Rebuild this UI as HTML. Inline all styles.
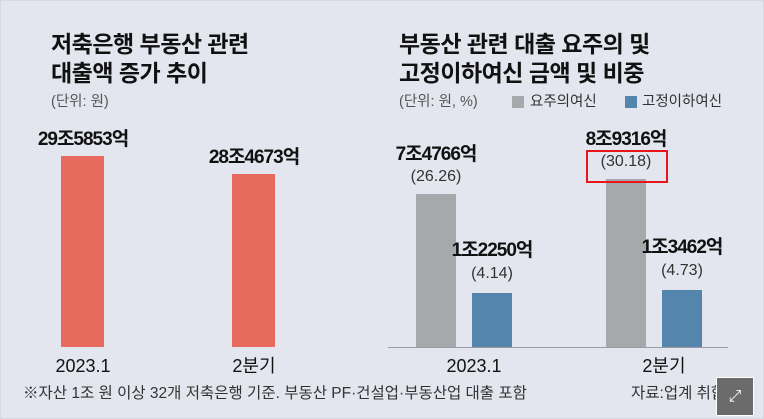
<!DOCTYPE html>
<html><head><meta charset="utf-8"><style>
body{margin:0;width:764px;height:419px;overflow:hidden;background:#fff}
#c{position:relative;width:762px;height:417px;background:#e3e6ee;border:1px solid #d6d9e0;font-family:"Liberation Sans","Noto Sans CJK KR",sans-serif;color:#111}
.t{position:absolute;white-space:nowrap}
.title{font-size:23px;font-weight:bold;line-height:29px;letter-spacing:-0.5px}
.unit{font-size:14.5px;color:#555;line-height:18px}
.val{font-size:19px;font-weight:bold;letter-spacing:-1px;text-align:center;width:140px;line-height:22px}
.pct{font-size:16px;color:#333;text-align:center;width:140px;line-height:20px}
.cat{font-size:18px;text-align:center;width:120px;line-height:22px}
</style></head><body>
<div id="c">
<div class="t title" style="left:50px;top:29px">저축은행 부동산 관련<br>대출액 증가 추이</div>
<div class="t unit" style="left:50px;top:92px">(단위: 원)</div>
<div class="t title" style="left:398px;top:29px">부동산 관련 대출 요주의 및<br>고정이하여신 금액 및 비중</div>
<div class="t unit" style="left:398px;top:92px">(단위: 원, %)</div>
<div class="t" style="left:511px;top:95px;width:12px;height:12px;background:#a7a8ab"></div>
<div class="t unit" style="left:529px;top:92px;color:#333">요주의여신</div>
<div class="t" style="left:624px;top:95px;width:12px;height:12px;background:#5385ad"></div>
<div class="t unit" style="left:641px;top:92px;color:#333">고정이하여신</div>
<div class="t" style="left:387px;top:346px;width:340px;height:1px;background:#9a9ca3"></div>
<div class="t" style="left:585px;top:149px;width:82px;height:33px;border:2px solid #e8161b;box-sizing:border-box;z-index:2"></div>
<div class="t unit" style="left:22px;top:384px;font-size:15.5px;color:#333">※자산 1조 원 이상 32개 저축은행 기준. 부동산 PF·건설업·부동산업 대출 포함</div>
<div class="t unit" style="left:630px;top:384px;font-size:15.5px;color:#333">자료:업계 취합</div>
<div class="t" style="left:715px;top:376px;width:36px;height:37px;background:#6b6b6b;border:1px solid #fff;color:#fff;font-size:16px;text-align:center;line-height:37px;z-index:3">⤢</div>
</div>
<script>
const leftCats=["2023.1","2분기"];
const leftVals=[295853,284673];
const leftLabels=["29조5853억","28조4673억"];
const rightCats=["2023.1","2분기"];
const watchVals=[74766,89316];
const badVals=[12250,13462];
const watchLabels=["7조4766억","8조9316억"];
const badLabels=["1조2250억","1조3462억"];
const watchPct=["(26.26)","(30.18)"];
const badPct=["(4.14)","(4.73)"];
const base=346;
const yLeft=v=>0.00161*(v-177223);
const yRight=v=>0.606*Math.sqrt(v)-13;
const root=document.getElementById('c');
function add(cls,x,y,w,h,txt,bg){const d=document.createElement('div');d.className='t '+cls;d.style.left=x+'px';d.style.top=y+'px';if(w)d.style.width=w+'px';if(h)d.style.height=h+'px';if(bg)d.style.background=bg;if(txt)d.textContent=txt;root.appendChild(d);return d;}
const leftX=[60,231];
leftVals.forEach((v,i)=>{const h=yLeft(v);
const b=add('',leftX[i],base-h,43,h,'','#e8695e');


const l=add('val',leftX[i]-48,base-h-27,0,0,leftLabels[i]);


const c=add('cat',leftX[i]-38,354,0,0,leftCats[i]);

});
const gX=[415,605],bX=[471,661];
rightCats.forEach((cat,i)=>{const hg=yRight(watchVals[i]),hb=yRight(badVals[i]);
const g=add('',gX[i],base-hg,40,hg,'','#a7a8ab');


const b=add('',bX[i],base-hb,40,hb,'','#5385ad');


const l1=add('val',gX[i]-50,base-hg-50,0,0,watchLabels[i]);


const p1=add('pct',gX[i]-50,base-hg-27,0,0,watchPct[i]);


const l2=add('val',bX[i]-50,base-hb-53,0,0,badLabels[i]);


const p2=add('pct',bX[i]-50,base-hb-29,0,0,badPct[i]);


const c=add('cat',gX[i]-2,354,0,0,cat);

});
</script>
</body></html>
